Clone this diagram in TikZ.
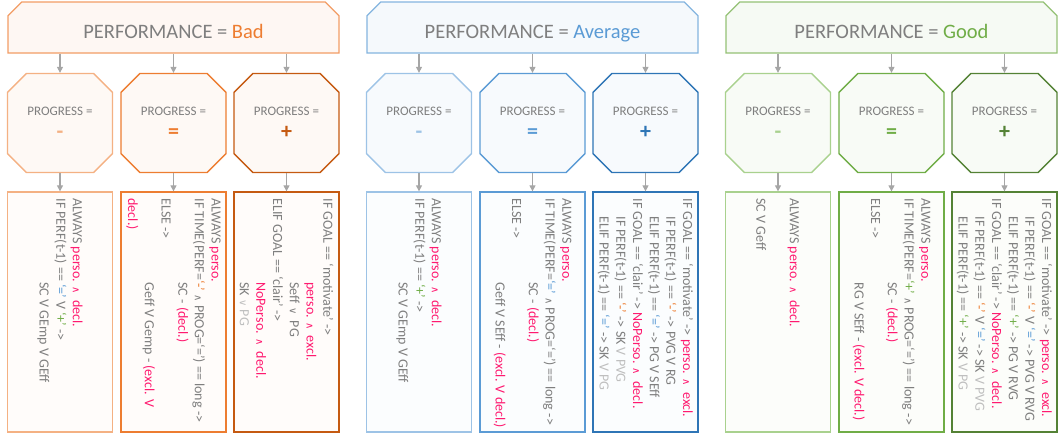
\documentclass[tikz,border=0pt]{standalone}
\usepackage{fontspec}
\setmainfont{Carlito}
\newfontfamily\symfont{DejaVu Sans}
\usetikzlibrary{shapes.misc,arrows.meta}

% colour sets: b = Bad, a = Average, g = Good
\definecolor{bL}{HTML}{F4B183}
\definecolor{bM}{HTML}{ED7D31}
\definecolor{bD}{HTML}{C55A11}
\definecolor{aL}{HTML}{9DC3E6}
\definecolor{aM}{HTML}{5B9BD5}
\definecolor{aD}{HTML}{2E75B6}
\definecolor{gL}{HTML}{A9D18E}
\definecolor{gM}{HTML}{70AD47}
\definecolor{gD}{HTML}{548235}
\definecolor{txt}{HTML}{7F7F7F}
\definecolor{hot}{HTML}{FF1A70}
\definecolor{pale}{HTML}{BFBFBF}
\definecolor{arrowgray}{HTML}{A6A6A6}

\newcommand{\pk}[1]{\textcolor{hot}{#1}}
\newcommand{\faded}[1]{\textcolor{pale}{#1}}
\newcommand{\andop}{{\symfont\fontsize{10}{10}\selectfont ∧}}
\newcommand{\orop}{{\symfont\fontsize{10}{10}\selectfont ∨}}
\newcommand{\qm}{\textcolor{bM}{‘-’}}
\newcommand{\qe}{\textcolor{aM}{‘=’}}
\newcommand{\qp}{\textcolor{gM}{‘+’}}
\newcommand{\ind}{\hspace*{18pt}}
\newcommand{\Ind}{\hspace*{84pt}}

\begin{document}
\begin{tikzpicture}[x=1pt,y=-1pt,
    head/.style={chamfered rectangle, chamfered rectangle corners={north west,north east},
      chamfered rectangle xsep=13pt, line width=1.2pt, minimum width=331pt, minimum height=51pt,
      inner sep=0pt, text height=21pt, text depth=0pt, text=txt, font=\fontsize{20.5}{24}\selectfont},
    octa/.style={chamfered rectangle, chamfered rectangle xsep=24pt, line width=1.3pt,
      minimum width=105pt, minimum height=99pt, inner sep=0pt, align=center,
      text=txt, font=\fontsize{13}{15}\selectfont},
    codebox/.style={rectangle, line width=1.3pt, minimum width=105pt, minimum height=240pt, inner sep=0pt},
    code/.style={rotate=-90, anchor=west, inner sep=0pt, align=left, text=txt,
      font=\fontsize{14}{16.7}\selectfont},
    arr/.style={draw=arrowgray, line width=1.1pt, -{Triangle[width=6pt,length=6pt]}}]
\useasboundingbox (0,0) rectangle (1060,440);

% headers, octagons and empty boxes for the three performance levels
\foreach \g/\dx/\word in {b/0/Bad,a/359/Average,g/718/Good}{
  \node[head, draw=\g M!75, fill=\g L!10] (h\g) at ({\dx+173.5},27.5)
    {PERFORMANCE = \textcolor{\g M}{\word}};
  \foreach \s/\x/\c/\sgn in {1/60/L/-,2/173.5/M/=,3/286.5/D/+}{
    \node[octa, draw=\g\c, fill=\g L!8] (p\g\s) at ({\dx+\x},123)
      {PROGRESS =\\[8pt]\textcolor{\g\c}{\fontsize{22}{22}\selectfont\bfseries \sgn}};
    \node[codebox, draw=\g\c, fill=\g L!4] (t\g\s) at ({\dx+\x},312) {};
    \draw[arr] (h\g.south -| p\g\s.north) -- (p\g\s.north);
    \draw[arr] (p\g\s.south) -- (t\g\s.north);
  }
}

% Bad
\node[code] (cb1) at ([yshift=-7pt]tb1.north) {ALWAYS \pk{perso. \andop\ \ decl.}\\
  IF PERF(t-1) == \qe\ V \qp\ ->\\
  \Ind SC V GEmp V GEff};
\node[code] (cb2) at ([yshift=-7pt]tb2.north) {ALWAYS \pk{perso.}\\
  IF TIME(PERF=\qm\ \andop\ PROG=‘=’) == long ->\\
  \Ind SC - \pk{(decl.)}\\
  ELSE ->\\
  \Ind Geff V Gemp - \pk{(excl. V}\\
  \pk{decl.)}};
\node[code] (cb3) at ([yshift=-7pt]tb3.north) {IF GOAL == ‘motivate’ ->\\
  \Ind\pk{perso. \andop\ \ excl.}\\
  \Ind Seff \orop\ \ PG\\
  ELIF GOAL == ‘clair’ ->\\
  \Ind\pk{NoPerso. \andop\ \ decl.}\\
  \Ind SK \faded{\orop\ PG}};

% Average
\node[code] (ca1) at ([yshift=-7pt]ta1.north) {ALWAYS \pk{perso. \andop\ \ decl.}\\
  IF PERF(t-1) == \qp\ ->\\
  \Ind SC V GEmp V GEff};
\node[code] (ca2) at ([yshift=-7pt]ta2.north) {ALWAYS \pk{perso.}\\
  IF TIME(PERF=\qe\ \andop\ PROG=‘=’) == long ->\\
  \Ind SC - \pk{(decl.)}\\
  ELSE ->\\
  \Ind Geff V SEff - \pk{(excl. V decl.)}};
\node[code] (ca3) at ([yshift=-7pt]ta3.north) {IF GOAL == ‘motivate’ -> \pk{perso. \andop\ \ excl.}\\
  \ind IF PERF(t-1) == \qm\ -> PVG V RG\\
  \ind ELIF PERF(t-1) == \qe\ -> PG V SEff\\
  IF GOAL == ‘clair’ -> \pk{NoPerso. \andop\ \ decl.}\\
  \ind IF PERF(t-1) == \qm\ -> SK \faded{V PVG}\\
  \ind ELIF PERF(t-1) == \qe\ -> SK \faded{V PG}};

% Good
\node[code] (cg1) at ([yshift=-7pt]tg1.north) {ALWAYS \pk{perso. \andop\ \ decl.}\\[16.7pt]
  SC V Geff};
\node[code] (cg2) at ([yshift=-7pt]tg2.north) {ALWAYS \pk{perso.}\\
  IF TIME(PERF=\qp\ \andop\ PROG=‘=’) == long ->\\
  \Ind SC - \pk{(decl.)}\\
  ELSE ->\\
  \Ind RG V SEff - \pk{(excl. V decl.)}};
\node[code] (cg3) at ([yshift=-7pt]tg3.north) {IF GOAL == ‘motivate’ -> \pk{perso. \andop\ \ excl.}\\
  \ind IF PERF(t-1) == \qm\ V \qe\ -> PVG V RVG\\
  \ind ELIF PERF(t-1) == \qp\ -> PG V RVG\\
  IF GOAL == ‘clair’ -> \pk{NoPerso. \andop\ \ decl.}\\
  \ind IF PERF(t-1) == \qm\ V \qe\ -> SK \faded{V PVG}\\
  \ind ELIF PERF(t-1) == \qp\ -> SK \faded{V PG}};
\end{tikzpicture}
\end{document}
